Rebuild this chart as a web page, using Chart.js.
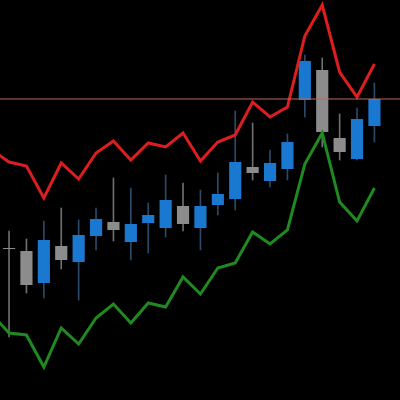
<!DOCTYPE html>
<html>
<head>
<meta charset="utf-8">
<script src="https://cdn.jsdelivr.net/npm/chart.js@4"></script>
<style>
  html, body { margin: 0; padding: 0; background: #000; }
  #wrap { width: 400px; height: 400px; }
</style>
</head>
<body>
<div id="wrap"><canvas id="chart"></canvas></div>
<script>
// candle data (price units), one entry per bar
const opens  = [152, 149, 117, 154, 138, 164, 178, 158, 177, 172, 194, 172, 195, 201, 233, 219, 231, 300, 330, 262, 241, 274];
const closes = [151, 115, 160, 140, 165, 181, 170, 176, 185, 200, 176, 194, 206, 238, 227, 237, 258, 339, 268, 248, 281, 301];
const highs  = [169, 161, 179, 192, 180, 192, 222, 212, 197, 225, 217, 210, 227, 289, 277, 250, 266, 345, 342, 286, 292, 317];
const lows   = [ 63, 107, 102, 131, 100, 150, 159, 140, 147, 163, 169, 150, 185, 190, 220, 213, 220, 283, 253, 240, 240, 258];

// band lines, starting one bar before the first candle
const upperBand = [250, 238, 234, 202, 237, 221, 247, 259, 240, 257, 253, 267, 239, 258, 265, 298, 283, 293, 364, 395, 328, 303, 336];
const lowerBand = [86, 67, 65, 33, 72, 56, 82, 96, 77, 97, 93, 123, 106, 132, 137, 168, 156, 170, 236, 267, 198, 179, 212];

const lastPrice = 301;

const candleIdx = opens.map((_, i) => i);
const upColor = '#1a78d0';
const downColor = '#8c8c8c';
const candleColors = candleIdx.map(i => closes[i] >= opens[i] ? upColor : downColor);
const wickColors = candleIdx.map(i => closes[i] >= opens[i] ? '#2b4a6a' : '#6e6e6e');

new Chart(document.getElementById('chart'), {
  type: 'bar',
  data: {
    datasets: [
      {
        type: 'line',
        data: [{ x: -2, y: lastPrice }, { x: 24, y: lastPrice }],
        borderColor: '#b86a5a',
        borderWidth: 1,
        pointRadius: 0,
        order: 0
      },
      {
        type: 'line',
        data: upperBand.map((v, i) => ({ x: i - 1, y: v })),
        borderColor: '#dc1e1e',
        borderWidth: 3,
        pointRadius: 0,
        tension: 0,
        order: 1
      },
      {
        type: 'line',
        data: lowerBand.map((v, i) => ({ x: i - 1, y: v })),
        borderColor: '#1f8a1f',
        borderWidth: 3,
        pointRadius: 0,
        tension: 0,
        order: 1
      },
      {
        data: candleIdx.map(i => ({ x: i, y: [opens[i], closes[i] === opens[i] ? opens[i] - 1 : closes[i]] })),
        backgroundColor: candleColors,
        barPercentage: 0.7,
        categoryPercentage: 1,
        grouped: false,
        order: 2
      },
      {
        data: candleIdx.map(i => ({ x: i, y: [lows[i], highs[i]] })),
        backgroundColor: wickColors,
        barThickness: 1,
        grouped: false,
        order: 3
      }
    ]
  },
  options: {
    responsive: true,
    maintainAspectRatio: false,
    animation: false,
    layout: { padding: 0 },
    plugins: { legend: { display: false }, tooltip: { enabled: false } },
    scales: {
      x: { type: 'linear', min: -0.52, max: 22.47, display: false, offset: false },
      y: { min: 0, max: 400, display: false }
    }
  }
});
</script>
</body>
</html>
